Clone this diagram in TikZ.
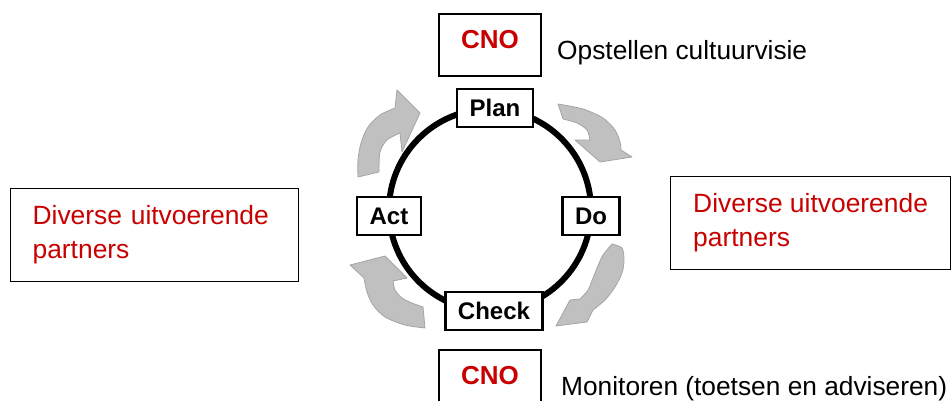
\documentclass[tikz,border=0pt]{standalone}
\usepackage{fontspec}
\setmainfont{Liberation Sans}
\usetikzlibrary{positioning,calc}
\definecolor{cnored}{RGB}{200,0,0}
\definecolor{arrowgray}{RGB}{192,192,192}
\definecolor{arrowedge}{RGB}{165,165,165}
\tikzset{
  phase/.style={draw,fill=white,line width=2.5pt,inner xsep=12.5pt,inner ysep=0pt,minimum height=38pt,font=\fontsize{24}{28}\selectfont\bfseries},
  cnobox/.style={draw,line width=1.2pt,minimum width=102pt,minimum height=62pt,text depth=12pt,font=\fontsize{26}{30}\selectfont\bfseries,text=cnored},
  partnerbox/.style={draw,line width=1.2pt,align=left,minimum height=93pt,anchor=north west,font=\fontsize{26.4}{34}\selectfont,text=cnored},
  note/.style={anchor=base west,inner sep=0pt,font=\fontsize{26.3}{30}\selectfont},
  cyclearrow/.style={fill=arrowgray,draw=arrowedge,line width=0.8pt,line join=round}
}
\begin{document}
\begin{tikzpicture}[x=1pt,y=-1pt]
	\useasboundingbox (0,0) rectangle (952,401);
	% turning arrows
	\draw[cyclearrow] plot[smooth] coordinates {(358,177) (358,160) (361,143) (368,127) (380,115) (395,108)} -- (397,90) -- (420,113) -- (402,152) -- (400,133) -- plot[smooth] coordinates {(400,133) (387,140) (380,152) (379,172)} -- cycle;
	\draw[cyclearrow] plot[smooth] coordinates {(558,104) (583,109) (603,118) (615,130) (620,142) (621,150)} -- (632,157) -- (600,162) -- (575,140) -- plot[smooth] coordinates {(590,140) (587,130) (577,123) (563,119)} -- cycle;
	\draw[cyclearrow] plot[smooth] coordinates {(612,244) (622,248) (624,260) (622,273) (615,287) (605,300) (593,310)} -- (587,322) -- (556,326) -- (570,300) -- plot[smooth] coordinates {(580,299) (588,290) (593,278) (597,268) (603,255) (612,244)} -- cycle;
	\draw[cyclearrow] plot[smooth] coordinates {(425,328) (405,325) (385,317) (373,305) (367,292) (364,278)} -- (350,265) -- (385,256) -- (407,278) -- plot[smooth] coordinates {(393,281) (395,290) (402,298) (412,303) (423,307)} -- cycle;
	% cycle
	\coordinate (hub) at (490,210);
	\draw[line width=6pt] (hub) circle[radius=101pt];
	\node[phase] (plan) at (495,108) {Plan};
	\node[phase] (act) at (389,216) {Act};
	\node[phase] (do) at (591,216) {Do};
	\node[phase] (check) at (494,311) {Check};
	% roles
	\node[cnobox] (cnotop) at (490,45) {CNO};
	\node[cnobox] (cnobot) at (490,381) {CNO};
	\node[note] (visie) at (557,60) {Opstellen cultuurvisie};
	\node[note] (monitor) at (561,395) {Monitoren (toetsen en adviseren)};
	\node[partnerbox,text width=244pt,inner xsep=22pt] (partnersl) at (10,188) {Diverse uitvoerende\\partners};
	\node[partnerbox,minimum width=280pt] (partnersr) at (670,176) {Diverse uitvoerende\\partners};
\end{tikzpicture}
\end{document}
